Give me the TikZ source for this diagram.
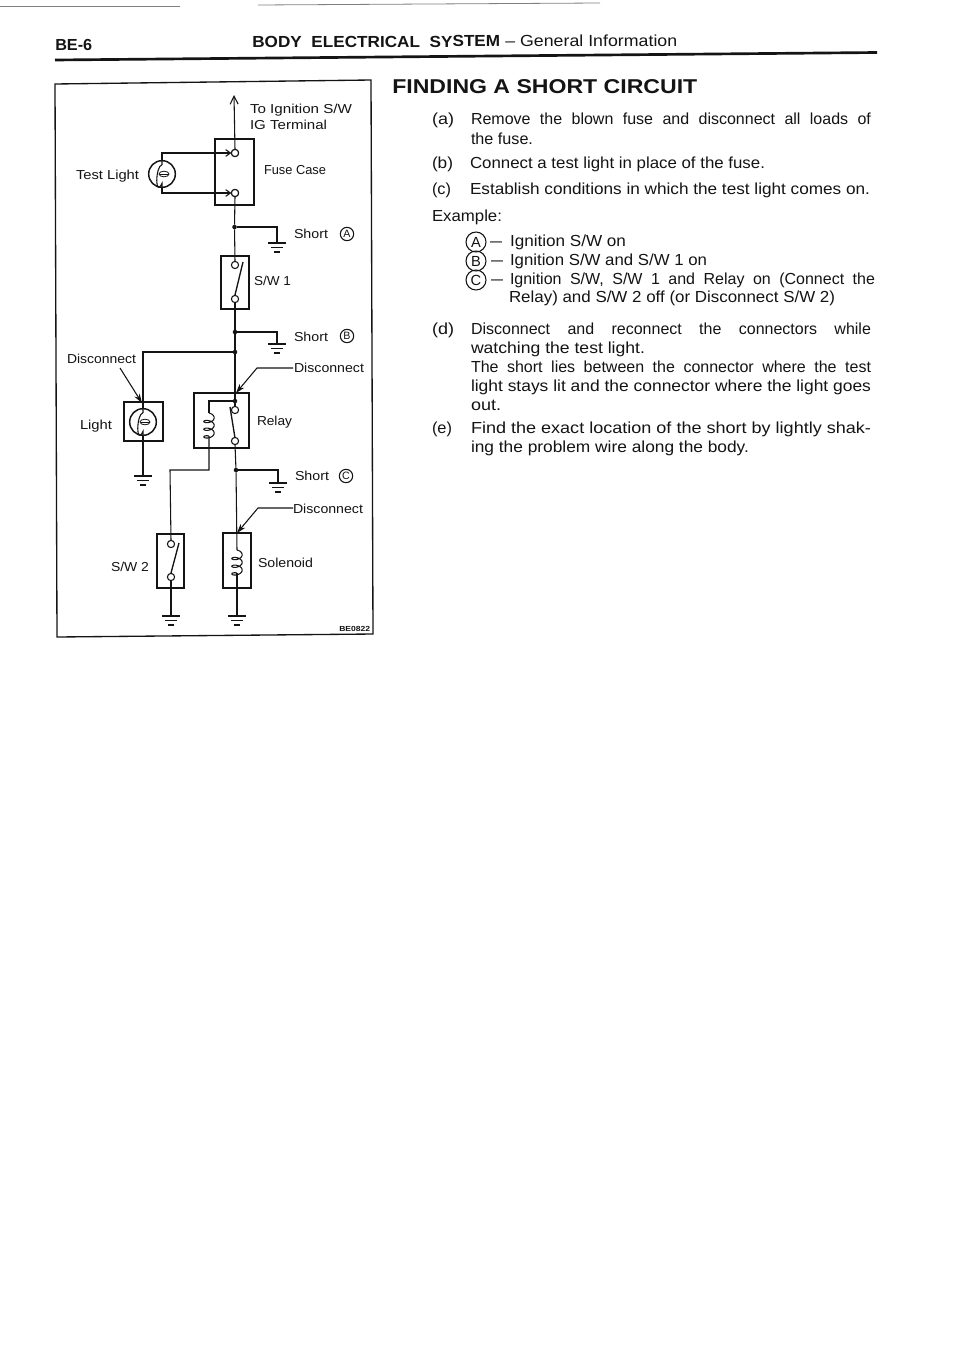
\documentclass[tikz,border=0pt]{standalone}
\usepackage{graphicx}
\usepackage{fontspec}
\setmainfont{Liberation Sans}
\usetikzlibrary{arrows.meta,calc}
\definecolor{ink}{gray}{0.08}
\newsavebox\myfitbox
\newcommand\fitto[2]{\sbox\myfitbox{#2}\pgfmathsetmacro\myratio{#1*0.75/\wd\myfitbox}\scalebox{\myratio}[1]{\usebox\myfitbox}}
\newcommand\diag[5]{\node[lab] (#1) at (#2,#3) {\fitto{#4}{#5}};}
\newcommand\body[5]{\node[txt] (#1) at (#2,#3) {\fitto{#4}{#5}};}
\newcommand\just[5]{\node[txt] (#1) at (#2,#3) {\makebox[\dimexpr#4pt*3/4\relax][s]{#5}};}
\newcommand\boxnode[5]{\node[boxn,minimum width={(#4-#2)*0.75pt},minimum height={(#5-#3)*0.75pt}] (#1) at ({(#2+#4)/2},{(#3+#5)/2}) {};}
\newcommand\gnd[1]{\draw[wire] (#1) ++(-9,0) -- ++(18,0) ++(-15,4.5) -- ++(12,0) ++(-9,4.5) -- ++(6,0);}
\newcommand\coil[3]{\draw[wire] plot[smooth,domain=0:1080,samples=61] ({#1+5.2*sin(\x)},{#2+\x/1080*(#3-#2)-2.8*cos(\x)+2.8});}
\newcommand\bulb[1]{\draw[wire] (#1.north) -- ++(0,4) .. controls ++(-7,2) and ++(-7,15) .. ($(#1.south)+(0,-4)$) -- (#1.south);
 \draw[ink,line width=0.6pt] ($(#1.center)+(2,0)$) ellipse [x radius=5,y radius=2.8];
 \draw[ink,line width=0.6pt] ($(#1.center)+(-2.5,0)$) -- ++(9,0);}
\tikzset{
 x=0.75pt,y=-0.75pt,
 wire/.style={draw=ink,line width=0.8pt,line join=miter},
 boxn/.style={draw=ink,line width=1.15pt,rectangle,inner sep=0pt,outer sep=0pt},
 term/.style={draw=ink,line width=0.8pt,circle,fill=white,minimum size=5.4pt,inner sep=0pt,outer sep=0pt},
 dotn/.style={circle,fill=ink,minimum size=3.4pt,inner sep=0pt,outer sep=0pt},
 lampn/.style={draw=ink,line width=1.1pt,circle,minimum size=20pt,inner sep=0pt,outer sep=0pt},
 lab/.style={anchor=base west,inner sep=0pt,outer sep=0pt,text=ink,font=\fontsize{9.75pt}{11pt}\selectfont},
 txt/.style={anchor=base west,inner sep=0pt,outer sep=0pt,text=ink,font=\fontsize{12pt}{14pt}\selectfont},
 cl/.style={draw=ink,line width=0.8pt,circle,inner sep=0pt,minimum size=#1,text=ink},
 cl/.default=10pt,
 pointer/.style={wire,-{Stealth[length=7pt,width=4.5pt]}},
 tipbar/.style={wire,-{Straight Barb[length=3.6pt,width=5pt]}},
}
\begin{document}
\begin{tikzpicture}
\useasboundingbox (0,0) rectangle (960,1356);
\fill[white] (0,0) rectangle (960,1356);
% scan edge
\coordinate (sa) at (0,6); \coordinate (sb) at (180,6); \coordinate (sc) at (258,5); \coordinate (sd) at (600,3);
\draw[gray,line width=0.6pt] (sa) -- (sb);
\draw[gray,line width=0.6pt] (sc) -- (sd);
% header
\node[anchor=base west,inner sep=0pt,text=ink,font=\fontsize{12pt}{14pt}\selectfont\bfseries] (pg) at (55,50) {\fitto{37}{BE-6}};
\node[anchor=base west,inner sep=0pt,text=ink,font=\fontsize{12pt}{14pt}\selectfont\bfseries,rotate=0.3] (ti) at (252,48) {\fitto{248}{BODY\ \ ELECTRICAL\ \ SYSTEM}};
\node[anchor=base west,inner sep=0pt,text=ink,font=\fontsize{12pt}{14pt}\selectfont,rotate=0.3] (tj) at (505,47) {\fitto{172}{– General Information}};
\coordinate (ra) at (55,60); \coordinate (rb) at (877,52.5);
\draw[ink,line width=2pt] (ra) -- (rb);
% frame
\coordinate (f1) at (55,84); \coordinate (f2) at (371,80); \coordinate (f3) at (373,634); \coordinate (f4) at (57,637);
\draw[ink,line width=1pt] (f1) -- (f2) -- (f3) -- (f4) -- cycle;
% points
\coordinate (top) at (234,95);
\coordinate (gA) at (277,243); \coordinate (gB) at (277,344); \coordinate (gC) at (278,483);
\coordinate (gL) at (143,476); \coordinate (gS) at (171,616); \coordinate (gD) at (237,616);
\coordinate (bend1) at (209,470); \coordinate (bend2) at (170,470);
\coordinate (coilTop) at (209,413); \coordinate (coilBot) at (209,436);
\coordinate (solTop) at (237,550); \coordinate (solBot) at (237,573);
\coordinate (d1a) at (120,368); \coordinate (d1b) at (142,403);
\coordinate (d2a) at (293,368); \coordinate (d2m) at (257,368); \coordinate (d2b) at (236,393);
\coordinate (d3a) at (293,508); \coordinate (d3m) at (258,508); \coordinate (d3b) at (237,533);
% boxes
\boxnode{fuse}{215}{139}{254}{205}
\boxnode{swa}{221}{256}{249}{309}
\boxnode{lbox}{124}{402}{163}{441}
\boxnode{rel}{194}{393}{249}{448}
\boxnode{swb}{157}{534}{184}{588}
\boxnode{sol}{223}{533}{251}{588}
% junctions and terminals
\node[term] (t1) at (235,153) {};
\node[term] (t2) at (235,193) {};
\node[term] (s1) at (235,265) {};
\node[term] (s2) at (235,299) {};
\node[term] (r1) at (235,410) {};
\node[term] (r2) at (235,441) {};
\node[term] (w1) at (171,544) {};
\node[term] (w2) at (171,577) {};
\node[dotn] (ja) at (234.5,227) {};
\node[dotn] (jb) at (235,332) {};
\node[dotn] (jd) at (235,352) {};
\node[dotn] (jr) at (235,401) {};
\node[dotn] (jc) at (236,470) {};
\node[lampn] (tl) at (162,174) {};
\node[lampn] (ll) at (143,422) {};
% wires
\draw[wire,-{Straight Barb[length=6pt,width=6pt]}] (t1.north) -- (top);
\draw[wire] (t2.south) -- (ja) -- (s1.north);
\draw[wire] (s2.south) -- (jb) -- (jd) -- (jr) -- (r1.north);
\draw[wire] (r2.south) -- (jc) -- (solTop);
\draw[wire] (solBot) -- (gD);
\draw[wire] (ja) -| (gA);
\draw[wire] (jb) -| (gB);
\draw[wire] (jc) -| (gC);
\draw[wire] (jd) -| (ll.north);
\draw[wire] (ll.south) -- (gL);
\draw[wire] (jr) -| (coilTop);
\draw[wire] (coilBot) -- (bend1) -- (bend2) -- (w1.north);
\draw[wire] (w2.south) -- (gS);
\draw[tipbar] (tl.north) |- (t1.west);
\draw[tipbar] (tl.south) |- (t2.west);
\node[term] at (t1) {};
\node[term] at (t2) {};
% switch arms
\coordinate (a1) at (235,295); \coordinate (a2) at (243,262);
\coordinate (a3) at (235,438); \coordinate (a4) at (230,407);
\coordinate (a5) at (171,573); \coordinate (a6) at (179,543);
\draw[wire,line width=1pt] (a1) -- (a2);
\draw[wire,line width=1pt] (a3) -- (a4);
\draw[wire,line width=1pt] (a5) -- (a6);
% coils, bulbs, grounds
\coil{209}{413}{436}
\coil{237}{550}{573}
\bulb{tl}
\bulb{ll}
\gnd{gA}\gnd{gB}\gnd{gC}\gnd{gL}\gnd{gS}\gnd{gD}
% disconnect pointers
\draw[pointer] (d1a) -- (d1b);
\draw[pointer] (d2a) -- (d2m) -- (d2b);
\draw[pointer] (d3a) -- (d3m) -- (d3b);
% diagram labels
\diag{l1}{250}{113}{102}{To Ignition S/W}
\diag{l2}{250}{129}{77}{IG Terminal}
\diag{l3}{264}{174}{62}{Fuse Case}
\diag{l4}{76}{179}{63}{Test Light}
\diag{l5}{294}{238}{34}{Short}
\node[cl,font=\fontsize{8pt}{9pt}\selectfont] (ca) at (347,234) {A};
\diag{l6}{254}{285}{37}{S/W 1}
\diag{l7}{294}{341}{34}{Short}
\node[cl,font=\fontsize{8pt}{9pt}\selectfont] (cb) at (347,336) {B};
\diag{l8}{67}{363}{69}{Disconnect}
\diag{l9}{294}{372}{70}{Disconnect}
\diag{l10}{80}{429}{32}{Light}
\diag{l11}{257}{425}{35}{Relay}
\diag{l12}{295}{480}{34}{Short}
\node[cl,font=\fontsize{8pt}{9pt}\selectfont] (cc) at (346,476) {C};
\diag{l13}{293}{513}{70}{Disconnect}
\diag{l14}{111}{571}{38}{S/W 2}
\diag{l15}{258}{567}{55}{Solenoid}
\node[anchor=base west,inner sep=0pt,text=ink,font=\fontsize{5.5pt}{6pt}\selectfont\bfseries] (l16) at (339,631) {\fitto{31}{BE0822}};
% text column
\node[anchor=base west,inner sep=0pt,text=ink,font=\fontsize{15pt}{17pt}\selectfont\bfseries] (hd) at (392,93) {\fitto{305}{FINDING A SHORT CIRCUIT}};
\body{ta}{432}{124}{22}{(a)}
\just{ta1}{471}{124}{400}{Remove the blown fuse and disconnect all loads of}
\body{ta2}{471}{144}{62}{the fuse.}
\body{tb}{432}{168}{21}{(b)}
\body{tb1}{470}{168}{295}{Connect a test light in place of the fuse.}
\body{tc}{432}{194}{19}{(c)}
\body{tc1}{470}{194}{400}{Establish conditions in which the test light comes on.}
\body{te}{432}{221}{70}{Example:}
\node[cl=15pt,font=\fontsize{11pt}{12pt}\selectfont] (ea) at (476,242) {A};
\node[cl=15pt,font=\fontsize{11pt}{12pt}\selectfont] (eb) at (476,261) {B};
\node[cl=15pt,font=\fontsize{11pt}{12pt}\selectfont] (ec) at (476,280) {C};
\body{da}{490}{246}{12}{–}
\body{db}{491}{265}{12}{–}
\body{dc}{491}{284}{12}{–}
\body{e1}{510}{246}{116}{Ignition S/W on}
\body{e2}{510}{265}{197}{Ignition S/W and S/W 1 on}
\just{e3}{510}{284}{365}{Ignition S/W, S/W 1 and Relay on (Connect the}
\body{e4}{509}{302}{326}{Relay) and S/W 2 off (or Disconnect S/W 2)}
\body{td}{432}{334}{22}{(d)}
\just{td1}{471}{334}{400}{Disconnect and reconnect the connectors while}
\body{td2}{471}{353}{174}{watching the test light.}
\just{td3}{471}{372}{400}{The short lies between the connector where the test}
\body{td4}{471}{391}{400}{light stays lit and the connector where the light goes}
\body{td5}{471}{410}{30}{out.}
\body{tf}{432}{433}{20}{(e)}
\body{tf1}{471}{433}{400}{Find the exact location of the short by lightly shak-}
\body{tf2}{471}{452}{278}{ing the problem wire along the body.}
\end{tikzpicture}
\end{document}
